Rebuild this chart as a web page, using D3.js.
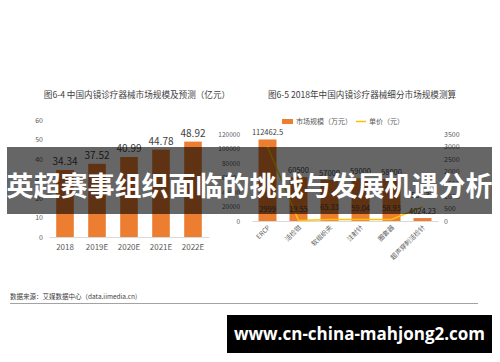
<!DOCTYPE html>
<html><head><meta charset="utf-8">
<script src="https://cdn.jsdelivr.net/npm/d3@7"></script>
<style>body{margin:0;background:#fff}svg{display:block}text{font-family:"Noto Sans CJK SC","Noto Sans",sans-serif}</style>
</head><body>
<svg id="c" width="500" height="362"></svg>
<script>
// Left chart data
const years = ["2018","2019E","2020E","2021E","2022E"];
const marketSize = [34.34, 37.52, 40.99, 44.78, 48.92];
const leftTicks = [0,10,20,30,40,50,60];
// Right chart data
const segments = ["ERCP","活检钳","软组织夹","注射针","圈套器","超声穿刺活检针"];
const segSize = [112462.5, 60500, 57000, 59000, 58000, 4024.23];
const unitPrice = [2999, 19.55, 65.33, 59.04, 58.93, 567.33];
const sizeTicks = [0,20000,40000,60000,80000,100000,120000];
const priceTicks = [0,500,1000,1500,2000,2500,3000,3500];
const titleLeft = "图6-4 中国内镜诊疗器械市场规模及预测（亿元）";
const titleRight = "图6-5 2018年中国内镜诊疗器械细分市场规模测算";
const legendNames = ["市场规模（万元）","单价（元）"];
const bannerText = "英超赛事组织面临的挑战与发展机遇分析";
const sourceText = "数据来源：艾媒数据中心（data.iimedia.cn)";
const siteText = "www.cn-china-mahjong2.com";

const svg = d3.select("#c");
const ORANGE = "#ED7D31", YELLOW = "#FFC000", AXIS = "#d9d9d9", LBL = "#595959", DARK = "#404040";

// ---------- Left chart ----------
const xL = d3.scaleBand().domain(years).range([49,209]).paddingInner(0.45).paddingOuter(0.225);
const yL = d3.scaleLinear().domain([0,60]).range([237,120]);
const gL = svg.append("g");
gL.append("text").attr("x",137).attr("y",98).attr("text-anchor","middle")
  .attr("font-size",8.6).attr("fill",DARK).text(titleLeft);
const axYL = gL.append("g").attr("transform","translate(47,0)")
  .call(d3.axisLeft(yL).tickValues(leftTicks).tickSize(0).tickPadding(4));
axYL.select(".domain").remove();
axYL.selectAll("text").attr("font-size",7).attr("fill",LBL);
gL.selectAll("rect.b").data(marketSize).join("rect").attr("class","b")
  .attr("x",(d,i)=>xL(years[i])).attr("width",xL.bandwidth())
  .attr("y",d=>yL(d)).attr("height",d=>yL(0)-yL(d)).attr("fill",ORANGE);
const axXL = gL.append("g").attr("transform",`translate(0,${yL(0)})`)
  .call(d3.axisBottom(xL).tickSize(0).tickPadding(7));
axXL.select(".domain").attr("stroke",AXIS);
axXL.selectAll("text").attr("font-size",8).attr("fill",LBL);
gL.selectAll("text.v").data(marketSize).join("text").attr("class","v")
  .attr("x",(d,i)=>xL(years[i])+xL.bandwidth()/2).attr("y",d=>yL(d)-5)
  .attr("text-anchor","middle").attr("font-size",10).attr("fill",DARK).text(d=>d.toFixed(2));

// ---------- Right chart ----------
const xR = d3.scaleBand().domain(segments).range([252,438]).paddingInner(0.42).paddingOuter(0.21);
const ySz = d3.scaleLinear().domain([0,120000]).range([221,134]);
const yPr = d3.scaleLinear().domain([0,3500]).range([221,134]);
const gR = svg.append("g");
gR.append("text").attr("x",362).attr("y",98).attr("text-anchor","middle")
  .attr("font-size",8.6).attr("fill",DARK).text(titleRight);
// legend
gR.append("rect").attr("x",282).attr("y",119).attr("width",11).attr("height",5).attr("fill",ORANGE);
gR.append("text").attr("x",296).attr("y",124).attr("font-size",7).attr("fill",LBL).text(legendNames[0]);
gR.append("line").attr("x1",356).attr("x2",366).attr("y1",121.5).attr("y2",121.5).attr("stroke",YELLOW).attr("stroke-width",1.5);
gR.append("text").attr("x",369).attr("y",124).attr("font-size",7).attr("fill",LBL).text(legendNames[1]);
const axSz = gR.append("g").attr("transform","translate(244,0)")
  .call(d3.axisLeft(ySz).tickValues(sizeTicks).tickSize(0).tickPadding(4).tickFormat(d3.format("d")));
axSz.select(".domain").remove();
axSz.selectAll("text").attr("font-size",6.5).attr("fill",LBL);
const axPr = gR.append("g").attr("transform","translate(440,0)")
  .call(d3.axisRight(yPr).tickValues(priceTicks).tickSize(0).tickPadding(4).tickFormat(d3.format("d")));
axPr.select(".domain").remove();
axPr.selectAll("text").attr("font-size",7).attr("fill",LBL);
gR.selectAll("rect.b").data(segSize).join("rect").attr("class","b")
  .attr("x",(d,i)=>xR(segments[i])).attr("width",xR.bandwidth())
  .attr("y",d=>ySz(d)).attr("height",d=>ySz(0)-ySz(d)).attr("fill",ORANGE);
const axXR = gR.append("g").attr("transform",`translate(0,${ySz(0)})`)
  .call(d3.axisBottom(xR).tickSize(0).tickPadding(0));
axXR.select(".domain").attr("stroke",AXIS);
axXR.selectAll("text").attr("font-size",6.5).attr("fill",LBL)
  .attr("text-anchor","end").attr("dy",0)
  .attr("transform","translate(3,7) rotate(-45)");
const cx = (i)=>xR(segments[i])+xR.bandwidth()/2;
gR.append("path").datum(unitPrice)
  .attr("d",d3.line().x((d,i)=>cx(i)).y(d=>yPr(d)))
  .attr("fill","none").attr("stroke",YELLOW).attr("stroke-width",1.5);
gR.selectAll("text.v").data(segSize).join("text").attr("class","v")
  .attr("x",(d,i)=>cx(i)).attr("y",d=>ySz(d)-4)
  .attr("text-anchor","middle").attr("font-size",7.5).attr("fill",DARK).text(d=>d3.format("~")(d));
gR.selectAll("text.p").data(unitPrice).join("text").attr("class","p")
  .attr("x",(d,i)=>cx(i)).attr("y",d=> d>1000 ? ySz(0)-9 : Math.min(yPr(d)-9, ySz(0)-9))
  .attr("text-anchor","middle").attr("font-size",7.5).attr("fill",DARK).text(d=>d3.format("~")(d));

// ---------- Banner ----------
svg.append("rect").attr("x",7).attr("y",147).attr("width",485).attr("height",67).attr("fill","rgba(0,0,0,0.6)");
svg.append("text").attr("x",249.5).attr("y",196).attr("text-anchor","middle")
  .attr("font-size",27).attr("font-weight","bold").attr("fill","#fff").text(bannerText);

// ---------- Source & footer ----------
svg.append("text").attr("x",10).attr("y",299).attr("font-size",6.5).attr("fill",DARK).text(sourceText);
svg.append("line").attr("x1",10).attr("x2",478).attr("y1",303.5).attr("y2",303.5).attr("stroke","#8c8c8c").attr("stroke-width",0.8);
svg.append("rect").attr("x",227).attr("y",315).attr("width",265).attr("height",38).attr("fill","#000");
svg.append("text").attr("x",359.5).attr("y",340).attr("text-anchor","middle")
  .attr("font-size",17).attr("font-weight","bold").attr("fill","#fff")
  .style("font-family","'Open Sans',sans-serif").text(siteText);
</script>
</body></html>
